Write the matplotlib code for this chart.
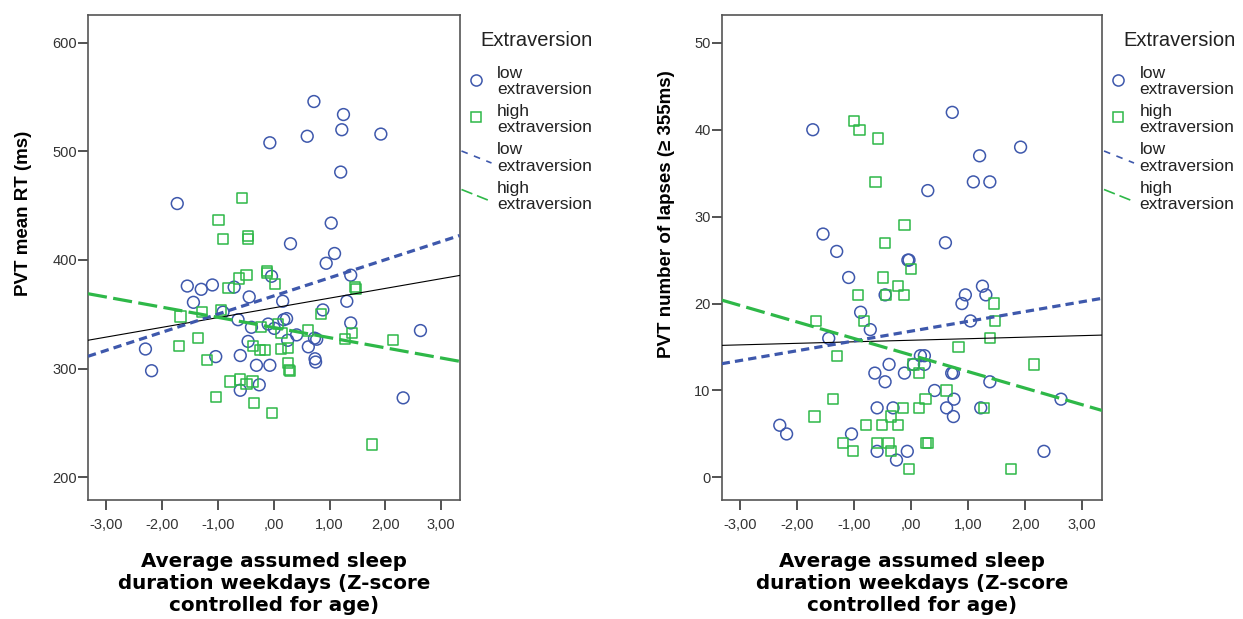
import matplotlib.pyplot as plt
from matplotlib.lines import Line2D

# ------------------------------
# Data
# ------------------------------
# left panel: PVT mean RT (ms)
rt_low_x = [0.72, 1.25, 1.22, 0.60, 1.92, -0.07, 1.20, -1.73, 1.03, 0.30, 1.09, 0.94,
            -1.55, -1.30, -1.10, -0.71, -0.04, -1.44, -0.44, 0.16, 1.38, 1.31, 0.88,
            -0.91, -0.64, -0.40, -0.10, 0.01, 0.18, 0.23, 1.38, 0.41, -0.46, 0.73, 0.77,
            0.62, 0.25, 2.63, -2.30, -2.19, -1.04, -0.60, -0.31, -0.07, 0.74, 0.75,
            -0.60, -0.26, 2.32]
rt_low_y = [546, 534, 520, 514, 516, 508, 481, 452, 434, 415, 406, 397,
            376, 373, 377, 375, 385, 361, 366, 362, 386, 362, 354,
            352, 345, 338, 341, 337, 345, 346, 342, 331, 325, 328, 327,
            320, 326, 335, 318, 298, 311, 312, 303, 303, 309, 306,
            280, 285, 273]
rt_high_x = [-0.57, -0.99, -0.91, -0.46, -0.46, -0.12, -0.12, -0.49, -0.63, -0.81, 0.02,
             1.46, 1.47, -1.67, -1.29, -0.94, 0.84, -0.23, 0.08, 0.14, 0.62, 1.40, 1.28,
             2.14, -1.36, -1.70, -1.20, -0.37, -0.25, -0.15, 0.13, 0.26, 0.26, 0.27, 0.29,
             -0.79, -0.61, -0.49, -0.38, -1.03, -0.35, -0.03, 1.76]
rt_high_y = [457, 437, 419, 422, 419, 390, 388, 386, 383, 374, 378,
             375, 373, 348, 352, 354, 350, 338, 341, 333, 335, 333, 327,
             326, 328, 321, 308, 321, 317, 317, 318, 319, 305, 299, 298,
             288, 290, 286, 288, 274, 268, 259, 230]

# right panel: PVT number of lapses
lap_low_x = [-1.73, 0.72, 1.92, 1.20, 1.09, 1.38, 0.29, -1.55, -1.31, 0.60, -0.06, -0.04,
             -1.10, -0.89, -0.72, -1.45, -0.46, 1.25, 0.95, 1.31, 0.89, 1.04, 0.16, 0.23,
             0.04, 0.23, -0.39, -0.64, -0.12, 0.71, 0.74, -0.46, 1.38, 0.41, 0.75, 0.62,
             0.74, -0.60, -0.32, 1.22, 2.63, -2.31, -2.19, -1.05, -0.60, -0.07, -0.26, 2.33]
lap_low_y = [40, 42, 38, 37, 34, 34, 33, 28, 26, 27, 25, 25,
             23, 19, 17, 16, 21, 22, 21, 21, 20, 18, 14, 14,
             13, 13, 13, 12, 12, 12, 12, 11, 11, 10, 9, 8,
             7, 8, 8, 8, 9, 6, 5, 5, 3, 3, 2, 3]
lap_high_x = [-1.00, -0.91, -0.58, -0.63, -0.12, -0.46, 0.00, -0.50, -0.23, -0.93, -0.44,
              -0.13, 1.45, 1.47, -0.83, -1.68, 1.38, 0.83, -1.30, 2.15, 0.04, 0.13, -1.37,
              0.25, 0.62, 0.13, -0.15, 1.28, -1.70, -0.35, -0.79, -0.51, -0.24, -1.20, -0.60,
              -0.40, 0.26, 0.30, -1.02, -0.36, -0.04, 1.75]
lap_high_y = [41, 40, 39, 34, 29, 27, 24, 23, 22, 21, 21,
              21, 20, 18, 18, 18, 16, 15, 14, 13, 13, 12, 9,
              9, 10, 8, 8, 8, 7, 7, 6, 6, 6, 4, 4,
              4, 4, 4, 3, 3, 1, 1]

# fit lines (intercept, slope): total, low, high
rt_fit = {"total": (355.9, 8.96), "low": (366.9, 16.7), "high": (337.8, -9.35)}
lap_fit = {"total": (15.78, 0.177), "low": (16.83, 1.126), "high": (14.07, -1.901)}

x_ticks = [-3, -2, -1, 0, 1, 2, 3]
x_ticklabels = ["-3,00", "-2,00", "-1,00", ",00", "1,00", "2,00", "3,00"]
rt_yticks = [200, 300, 400, 500, 600]
lap_yticks = [0, 10, 20, 30, 40, 50]

BLUE = "#3E58AC"
GREEN = "#2EB848"
W, H = 1243, 619

# ------------------------------
# Figure
# ------------------------------
plt.rcParams["font.family"] = ["Liberation Sans", "DejaVu Sans"]
fig = plt.figure(figsize=(W / 100, H / 100), dpi=100)

panels = [
    dict(box=(88, 15, 459.5, 500), xlim=(-3.33, 3.33), ylim=(178.9, 625.7),
         yticks=rt_yticks, ylabel="PVT mean RT (ms)", ylab_x=-0.151,
         low=(rt_low_x, rt_low_y), high=(rt_high_x, rt_high_y), fit=rt_fit),
    dict(box=(721.7, 15, 1102, 500), xlim=(-3.33, 3.35), ylim=(-2.6, 53.2),
         yticks=lap_yticks, ylabel="PVT number of lapses (\u2265 355ms)", ylab_x=-0.123,
         low=(lap_low_x, lap_low_y), high=(lap_high_x, lap_high_y), fit=lap_fit),
]

for p in panels:
    x0, y0, x1, y1 = p["box"]
    ax = fig.add_axes([x0 / W, 1 - y1 / H, (x1 - x0) / W, (y1 - y0) / H])

    ax.scatter(*p["low"], s=72, facecolors="none", edgecolors=BLUE, linewidths=1.1, zorder=3)
    ax.scatter(*p["high"], s=54, marker="s", facecolors="none", edgecolors=GREEN,
               linewidths=1.1, zorder=3)

    xs = list(p["xlim"])
    b, m = p["fit"]["total"]
    ax.plot(xs, [b + m * x for x in xs], color="black", lw=0.8, zorder=4)
    b, m = p["fit"]["low"]
    ax.plot(xs, [b + m * x for x in xs], color=BLUE, lw=2.3, dashes=(2.6, 1.6), zorder=4)
    b, m = p["fit"]["high"]
    ax.plot(xs, [b + m * x for x in xs], color=GREEN, lw=2.3, dashes=(6, 2), zorder=4)

    ax.set_xlim(p["xlim"])
    ax.set_ylim(p["ylim"])
    ax.set_xticks(x_ticks)
    ax.set_xticklabels(x_ticklabels)
    ax.set_yticks(p["yticks"])
    ax.tick_params(direction="out", length=7, width=1.3, colors="#444444",
                   labelcolor="#333333", labelsize=10.5)
    ax.tick_params(axis="x", pad=6)
    ax.tick_params(axis="y", pad=1)
    for sp in ax.spines.values():
        sp.set_color("#555555")
        sp.set_linewidth(1.2)

    ax.set_ylabel(p["ylabel"], fontsize=13.5, fontweight="bold")
    ax.yaxis.set_label_coords(p["ylab_x"], 0.59)
    ax.set_xlabel("Average assumed sleep\nduration weekdays (Z-score\ncontrolled for age)",
                  fontsize=14.3, fontweight="bold", family="DejaVu Sans", linespacing=1.2)
    ax.xaxis.set_label_coords(0.5, -0.108)

    # legend, drawn by hand to the right of the axes
    lx = x1
    fig.text((lx + 21) / W, 1 - 40.5 / H, "Extraversion", fontsize=14.5, va="center",
             color="#222222")
    fig.add_artist(Line2D([(lx + 16.3) / W], [1 - 80 / H], marker="o", ms=8, mfc="none",
                          mec=BLUE, mew=1.1, transform=fig.transFigure))
    fig.add_artist(Line2D([(lx + 16.3) / W], [1 - 117.3 / H], marker="s", ms=7, mfc="none",
                          mec=GREEN, mew=1.1, transform=fig.transFigure))
    fig.add_artist(Line2D([(lx + 2) / W, (lx + 32) / W], [1 - 151 / H, 1 - 163 / H],
                          color=BLUE, lw=1.2, dashes=(4, 4), transform=fig.transFigure))
    fig.add_artist(Line2D([(lx + 2) / W, (lx + 32) / W], [1 - 189.5 / H, 1 - 201.5 / H],
                          color=GREEN, lw=1.2, dashes=(7, 3), transform=fig.transFigure))
    for yc, lab in [(81.7, "low"), (119.5, "high"), (158, "low"), (196.5, "high")]:
        fig.text((lx + 37.5) / W, 1 - yc / H, lab + "\nextraversion", fontsize=12.5,
                 va="center", color="#222222", linespacing=1.1)

fig.savefig("out.png", dpi=100, facecolor="white")
